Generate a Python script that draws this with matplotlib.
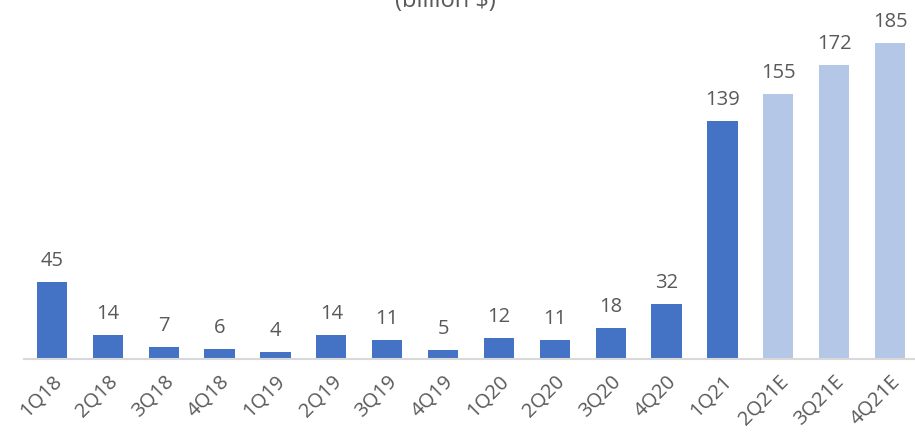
import matplotlib.pyplot as plt
import matplotlib as mp

mp.rcParams['font.family'] = ['Open Sans', 'DejaVu Sans']

quarters = ['1Q18', '2Q18', '3Q18', '4Q18', '1Q19', '2Q19', '3Q19', '4Q19',
            '1Q20', '2Q20', '3Q20', '4Q20', '1Q21', '2Q21E', '3Q21E', '4Q21E']
values = [45, 14, 7, 6, 4, 14, 11, 5, 12, 11, 18, 32, 139, 155, 172, 185]
estimate = [False] * 13 + [True] * 3

actual_col = '#4472C4'
est_col = '#B4C7E7'
txt_col = '#595959'

fig = plt.figure(figsize=(9.15, 4.40), dpi=100)
ax = fig.add_axes([24 / 915, 81 / 440, 894 / 915, 359 / 440])

x = list(range(len(quarters)))
colors = [est_col if e else actual_col for e in estimate]
ax.bar(x, values, width=0.54, color=colors, zorder=2)

for xi, v in zip(x, values):
    ax.annotate(str(v), (xi, v), xytext=(0, 8), textcoords='offset points',
                ha='center', va='bottom', fontsize=14.5, color=txt_col)

ax.set_xlim(-0.5, len(quarters) - 0.5)
ax.set_ylim(0, 210)
ax.set_xticks(x)
ax.set_xticklabels(quarters, rotation=45, ha='right', rotation_mode='anchor',
                   fontsize=14.5, color=txt_col)
ax.tick_params(axis='x', length=0, pad=9)
ax.set_yticks([])
for s in ['top', 'right', 'left']:
    ax.spines[s].set_visible(False)
ax.spines['bottom'].set_color('#D9D9D9')
ax.spines['bottom'].set_linewidth(1.5)

# title sits mostly above the canvas edge
fig.text(445 / 915, 0.998, '(billion $)', ha='center', va='center',
         fontsize=17, color=txt_col)

fig.savefig('out.png', dpi=100)
